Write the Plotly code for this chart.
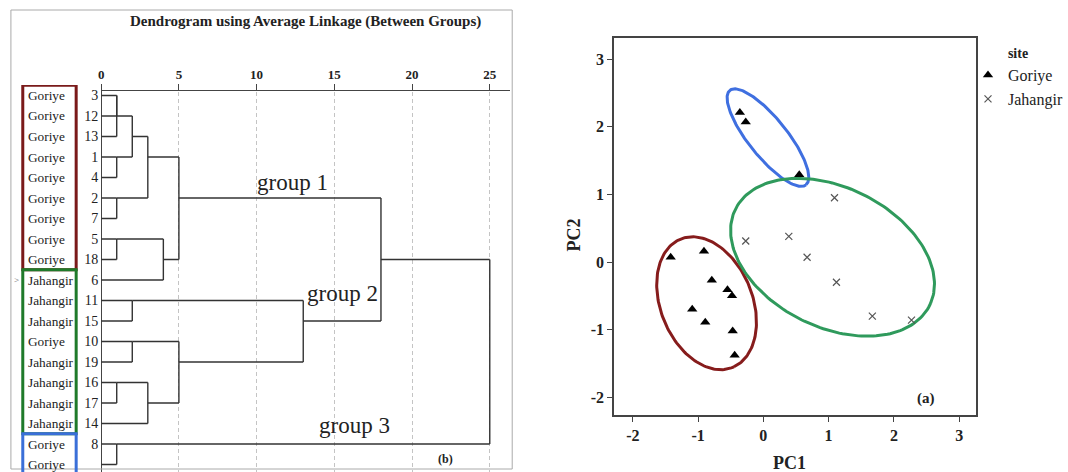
import math
import plotly.graph_objects as go

W, H = 1068, 472
def px(x): return x / W
def py(y): return 1 - y / H

SERIF = "Liberation Serif"

# ---------------- Dendrogram data ----------------
leaf_ids = [3, 12, 13, 1, 4, 2, 7, 5, 18, 6, 11, 15, 10, 19, 16, 17, 14, 8, 9]
leaf_site = ["Goriye"] * 9 + ["Jahangir", "Jahangir", "Jahangir", "Goriye", "Jahangir",
                              "Jahangir", "Jahangir", "Jahangir", "Goriye", "Goriye"]
# (new node, child a, child b, rescaled distance)
merges = [
    ("m1", 3, 12, 1.0),
    ("m2", "m1", 13, 1.0),
    ("m3", 1, 4, 1.0),
    ("m4", "m2", "m3", 2.0),
    ("m5", 2, 7, 1.0),
    ("m6", "m4", "m5", 3.0),
    ("m7", 5, 18, 1.0),
    ("m8", "m7", 6, 4.0),
    ("m9", "m6", "m8", 5.0),
    ("m10", 11, 15, 2.0),
    ("m11", 10, 19, 2.0),
    ("m12", 16, 17, 1.0),
    ("m13", "m12", 14, 3.0),
    ("m14", "m11", "m13", 5.0),
    ("m15", "m10", "m14", 13.0),
    ("m16", "m9", "m15", 18.0),
    ("m17", 8, 9, 1.0),
    ("m18", "m16", "m17", 25.0),
]
dist_ticks = [0, 5, 10, 15, 20, 25]
group_labels = ["group 1", "group 2", "group 3"]

# ---------------- PCA data ----------------
goriye_pc1 = [-0.36, -0.27, 0.55, -1.42, -0.91, -0.79, -0.55, -0.48, -1.09, -0.89, -0.47, -0.44]
goriye_pc2 = [2.21, 2.07, 1.29, 0.07, 0.16, -0.27, -0.41, -0.50, -0.70, -0.89, -1.02, -1.38]
jahangir_pc1 = [-0.27, 0.39, 0.67, 1.12, 1.67, 2.27, 1.09]
jahangir_pc2 = [0.31, 0.38, 0.07, -0.30, -0.80, -0.86, 0.95]
pc_ticks = [-2, -1, 0, 1, 2, 3]
# ellipses: center x, center y, semi-major, semi-minor, angle (deg), colour
ellipses = [
    (0.07, 1.84, 0.91, 0.29, -50, "#3f6fe0"),
    (-0.87, -0.61, 1.03, 0.70, -66, "#861c1c"),
    (1.06, 0.07, 1.65, 1.04, -24.5, "#2f9a5c"),
]

# ---------------- build dendrogram lines ----------------
node = {lid: (i, 0.0) for i, lid in enumerate(leaf_ids)}
dx, dy = [], []
for name, a, b, d in merges:
    ra, da = node[a]
    rb, db = node[b]
    for r, d0 in ((ra, da), (rb, db)):
        dx += [d0, d, None]
        dy += [r, r, None]
    dx += [d, d, None]
    dy += [ra, rb, None]
    node[name] = ((ra + rb) // 2, d)

fig = go.Figure()
line_col = "#333333"
fig.add_trace(go.Scatter(x=dx, y=dy, mode="lines", line=dict(color=line_col, width=1.4),
                         xaxis="x", yaxis="y", showlegend=False, hoverinfo="skip"))

# ---------------- PCA traces ----------------
for cx, cy, a, b, ang, col in ellipses:
    th = math.radians(ang)
    ex, ey = [], []
    for k in range(201):
        t = 2 * math.pi * k / 200
        u, v = a * math.cos(t), b * math.sin(t)
        ex.append(cx + u * math.cos(th) - v * math.sin(th))
        ey.append(cy + u * math.sin(th) + v * math.cos(th))
    fig.add_trace(go.Scatter(x=ex, y=ey, mode="lines", line=dict(color=col, width=3),
                             xaxis="x2", yaxis="y2", showlegend=False, hoverinfo="skip"))

fig.add_trace(go.Scatter(x=goriye_pc1, y=goriye_pc2, mode="markers", name="Goriye",
                         marker=dict(symbol="triangle-up", size=9, color="black"),
                         xaxis="x2", yaxis="y2"))
fig.add_trace(go.Scatter(x=jahangir_pc1, y=jahangir_pc2, mode="markers", name="Jahangir",
                         marker=dict(symbol="x-thin-open", size=7, color="#555555",
                                     line=dict(width=1.2, color="#555555")),
                         xaxis="x2", yaxis="y2"))

# ---------------- axes ----------------
x0_px, x25_px, xend_px = 99.3, 492.3, 513
ppu = (x25_px - x0_px) / 25
row0_px, row_step = 95.5, 20.5
top_px = 85
pc_ticktext = [str(v) for v in pc_ticks]

fig.update_layout(
    width=W, height=H, autosize=False, margin=dict(l=0, r=0, t=0, b=0, pad=0),
    paper_bgcolor="white", plot_bgcolor="white",
    font=dict(family=SERIF, color="#222"),
    xaxis=dict(domain=[px(x0_px), px(xend_px)], range=[0, (xend_px - x0_px) / ppu],
               anchor="free", position=py(90), side="top",
               tickvals=dist_ticks, ticks="outside", ticklen=6, tickcolor="#444",
               tickfont=dict(family=SERIF, size=13, weight="bold", color="#222"),
               showline=True, linecolor="#444", linewidth=1,
               showgrid=True, gridcolor="#c4c4c4", griddash="4px,3px", gridwidth=1,
               zeroline=True, zerolinecolor="#444", zerolinewidth=1.4),
    yaxis=dict(domain=[0, py(top_px)],
               range=[(H - row0_px) / row_step, (top_px - row0_px) / row_step],
               anchor="x", tickvals=list(range(len(leaf_ids))),
               ticktext=[str(v) for v in leaf_ids], ticks="",
               tickfont=dict(family=SERIF, size=14, color="#222"),
               showline=False, showgrid=False, zeroline=False, ticklabelstandoff=2),
    xaxis2=dict(domain=[px(618), px(984)], range=[-2 - 19 / 66, 3 + 17 / 66], anchor="y2",
                tickvals=pc_ticks, ticktext=pc_ticktext, ticks="outside", ticklen=5,
                tickcolor="#444",
                tickfont=dict(family=SERIF, size=16, weight="bold", color="#222"),
                showline=True, mirror=True, linecolor="#444", linewidth=1.5,
                showgrid=False, zeroline=False),
    yaxis2=dict(domain=[py(415), py(38)], range=[-(415 - 262) / 67.6, (262 - 38) / 67.6],
                anchor="x2", tickvals=pc_ticks, ticktext=pc_ticktext, ticks="outside",
                ticklen=5, tickcolor="#444",
                tickfont=dict(family=SERIF, size=16, weight="bold", color="#222"),
                showline=True, mirror=True, linecolor="#444", linewidth=1.5,
                showgrid=False, zeroline=False),
    legend=dict(x=px(976), y=py(40), xanchor="left", yanchor="top",
                title=dict(text="<b>site</b>", side="top center",
                           font=dict(family=SERIF, size=14)),
                font=dict(family=SERIF, size=16, color="#222"),
                bgcolor="rgba(0,0,0,0)", tracegroupgap=0, itemwidth=30),
)

# ---------------- shapes ----------------
shapes = [
    dict(type="rect", xref="paper", yref="paper", x0=px(8), x1=px(515), y0=py(469), y1=py(10),
         line=dict(color="#aaaaaa", width=1)),
]
box_specs = [(-0.5, 8.5, "#7a1a1a"), (8.5, 16.5, "#1f7a2a"), (16.5, 19.5, "#3a6fd8")]
for r0, r1, col in box_specs:
    shapes.append(dict(type="rect", xref="paper", yref="y", x0=px(20), x1=px(74),
                       y0=r0, y1=r1, line=dict(color=col, width=3)))
fig.update_layout(shapes=shapes)

# ---------------- annotations ----------------
def note(text, x, y, size, **kw):
    d = dict(text=text, x=px(x), y=py(y), xref="paper", yref="paper", showarrow=False,
             xanchor="center", yanchor="middle", font=dict(family=SERIF, size=size,
                                                            color=kw.pop("color", "#222")))
    d.update(kw)
    return d

ann = [
    note("<b>Dendrogram using Average Linkage (Between Groups)</b>", 306, 22, 15),
    note("<b>(b)</b>", 448, 459, 12),
    note(">", 14, 280, 9, color="#666"),
    note("<b>(a)</b>", 933, 398, 15),
    note("<b>PC1</b>", 795, 463, 18),
    note("<b>PC2</b>", 577, 235, 18, textangle=-90),
]
for i, s in enumerate(leaf_site):
    ann.append(dict(text=s, x=px(23), y=i, xref="paper", yref="y", xanchor="left",
                    yanchor="middle", showarrow=False,
                    font=dict(family=SERIF, size=13.3, color="#222")))
group_pos = [(293, 182), (343, 293), (355, 425)]
for t, (gx, gy) in zip(group_labels, group_pos):
    ann.append(note(t, gx, gy, 23))
fig.update_layout(annotations=ann)

fig.write_html("out.html", config={"responsive": False},
               post_script="document.body.style.margin='0';document.body.style.overflow='hidden';")
